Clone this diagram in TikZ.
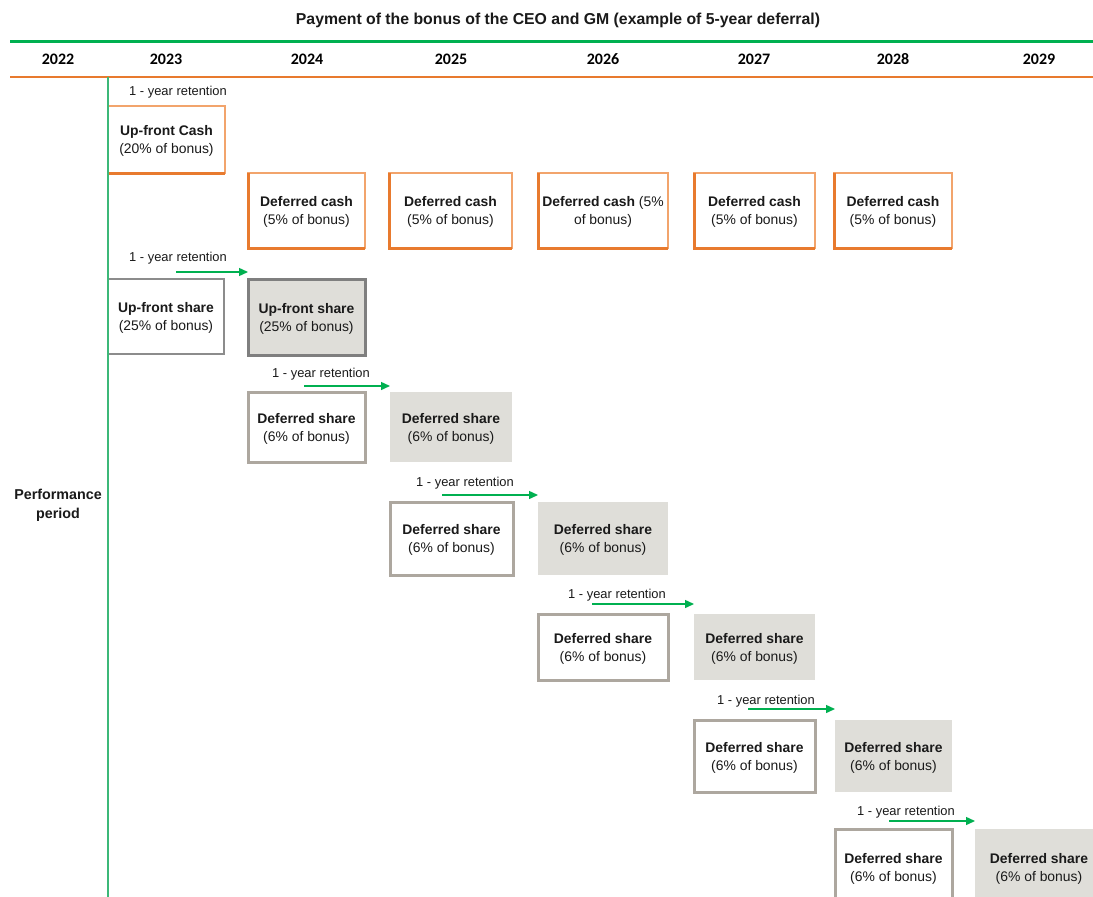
\documentclass[tikz,border=0pt]{standalone}
\usepackage{fontspec}
\setmainfont{Liberation Sans}
\newfontfamily\yearfont{Carlito}
\usetikzlibrary{arrows.meta}
\definecolor{hgreen}{HTML}{00B050}
\definecolor{vgreen}{HTML}{3CB878}
\definecolor{orangeD}{HTML}{E87A2E}
\definecolor{orangeL}{HTML}{F2A46C}
\definecolor{boxgray}{HTML}{DFDED9}
\definecolor{bordergray}{HTML}{ADA79F}
\definecolor{darkgray}{HTML}{7F7F7F}
\definecolor{midgray}{HTML}{8C8C8C}
\definecolor{ink}{HTML}{1A1A1A}
\begin{document}
\begin{tikzpicture}[x=1pt,y=-1pt,
  boxtext/.style={font=\fontsize{13.9}{18}\selectfont, align=center, text=ink, inner sep=0pt, outer sep=0pt, text depth=-1pt},
  cashbox/.style={boxtext, draw=orangeL, line width=1.2pt, fill=white},
  thickedge/.style={draw=orangeD, line width=3pt},
  sharew/.style={boxtext, draw=bordergray, line width=3pt, fill=white},
  shareg/.style={boxtext, fill=boxgray},
  lbl/.style={font=\fontsize{12.9}{15}\selectfont, text=ink, inner sep=0pt, yshift=-1.5pt},
  yr/.style={font=\yearfont\bfseries\fontsize{16}{18}\selectfont, text=black, inner sep=0pt},
  ret/.style={draw=hgreen, line width=1.4pt, -{Triangle[length=9pt,width=8pt]}},
]
\useasboundingbox (0,0) rectangle (1093,897);
\fill[white] (0,0) rectangle (1093,897);

% title and header
\node[font=\bfseries\fontsize{15.8}{18}\selectfont, text=ink, inner sep=0pt] (title) at (558,20.5) {Payment of the bonus of the CEO and GM (example of 5-year deferral)};
\draw[hgreen, line width=3pt] (10,41) -- (1093,41);
\draw[orangeD, line width=1.2pt] (10,77) -- (1093,77);
\node[yr] (y22) at (58,59.5) {2022};
\node[yr] (y23) at (166,59.5) {2023};
\node[yr] (y24) at (307,59.5) {2024};
\node[yr] (y25) at (451,59.5) {2025};
\node[yr] (y26) at (603,59.5) {2026};
\node[yr] (y27) at (754,59.5) {2027};
\node[yr] (y28) at (893,59.5) {2028};
\node[yr] (y29) at (1039,59.5) {2029};

\node[font=\bfseries\fontsize{14.3}{19}\selectfont, align=center, text=ink, inner sep=0pt] (perf) at (58,505.5) {Performance\\period};

% up-front cash
\node[lbl] (l0) at (178,91) {1 - year retention};
\node[cashbox, minimum width=117pt, minimum height=67pt] (ufc) at (166.5,139.5) {\textbf{Up-front Cash}\\(20\% of bonus)};
\draw[thickedge] (ufc.south west) -- (ufc.south east);

% deferred cash
\node[cashbox, minimum width=117pt, minimum height=75pt] (dc1) at (306.5,210.5) {\textbf{Deferred cash}\\(5\% of bonus)};
\node[cashbox, minimum width=123pt, minimum height=75pt] (dc2) at (450.5,210.5) {\textbf{Deferred cash}\\(5\% of bonus)};
\node[cashbox, minimum width=130pt, minimum height=75pt] (dc3) at (603,210.5) {\textbf{Deferred cash} (5\%\\of bonus)};
\node[cashbox, minimum width=121pt, minimum height=75pt] (dc4) at (754.5,210.5) {\textbf{Deferred cash}\\(5\% of bonus)};
\node[cashbox, minimum width=118pt, minimum height=75pt] (dc5) at (893,210.5) {\textbf{Deferred cash}\\(5\% of bonus)};
\foreach \b in {dc1,dc2,dc3,dc4,dc5}{
  \draw[thickedge] (\b.north west) -- (\b.south west) -- (\b.south east);
}

% up-front share
\node[boxtext, draw=midgray, line width=2pt, fill=white, minimum width=116pt, minimum height=75pt] (ufs1) at (166,316.5) {\textbf{Up-front share}\\(25\% of bonus)};
\node[boxtext, draw=darkgray, line width=3pt, fill=boxgray, minimum width=117pt, minimum height=76pt] (ufs2) at (306.5,317) {\textbf{Up-front share}\\(25\% of bonus)};
\node[lbl] (l1) at (178,257) {1 - year retention};
\coordinate (s1) at (176,272);
\draw[ret] (s1) -- (s1 -| ufs2.west);

% deferred shares
\node[sharew, minimum width=117pt, minimum height=70pt] (w1) at (306.5,427) {\textbf{Deferred share}\\(6\% of bonus)};
\node[shareg, minimum width=122pt, minimum height=70pt] (g1) at (451,427) {\textbf{Deferred share}\\(6\% of bonus)};
\node[sharew, minimum width=123pt, minimum height=73pt] (w2) at (451.5,538.5) {\textbf{Deferred share}\\(6\% of bonus)};
\node[shareg, minimum width=130pt, minimum height=73pt] (g2) at (603,538.5) {\textbf{Deferred share}\\(6\% of bonus)};
\node[sharew, minimum width=130pt, minimum height=66pt] (w3) at (603,647) {\textbf{Deferred share}\\(6\% of bonus)};
\node[shareg, minimum width=121pt, minimum height=66pt] (g3) at (754.5,647) {\textbf{Deferred share}\\(6\% of bonus)};
\node[sharew, minimum width=121pt, minimum height=72pt] (w4) at (754.5,756) {\textbf{Deferred share}\\(6\% of bonus)};
\node[shareg, minimum width=117pt, minimum height=72pt] (g4) at (893.5,756) {\textbf{Deferred share}\\(6\% of bonus)};
\node[sharew, minimum width=117pt, minimum height=76pt] (w5) at (893.5,867) {\textbf{Deferred share}\\(6\% of bonus)};
\node[shareg, minimum width=128pt, minimum height=76pt] (g5) at (1039,867) {\textbf{Deferred share}\\(6\% of bonus)};

\node[lbl] (l2) at (321,373) {1 - year retention};
\coordinate (s2) at (304,386);
\draw[ret] (s2) -- (s2 -| g1.west);
\node[lbl] (l3) at (465,482) {1 - year retention};
\coordinate (s3) at (442,495);
\draw[ret] (s3) -- (s3 -| g2.west);
\node[lbl] (l4) at (617,594) {1 - year retention};
\coordinate (s4) at (592,604);
\draw[ret] (s4) -- (s4 -| g3.west);
\node[lbl] (l5) at (766,700) {1 - year retention};
\coordinate (s5) at (748,709);
\draw[ret] (s5) -- (s5 -| g4.west);
\node[lbl] (l6) at (906,811) {1 - year retention};
\coordinate (s6) at (889,821);
\draw[ret] (s6) -- (s6 -| g5.west);

% vertical line
\draw[vgreen, line width=1.2pt] (108,77) -- (108,897);
\end{tikzpicture}
\end{document}
